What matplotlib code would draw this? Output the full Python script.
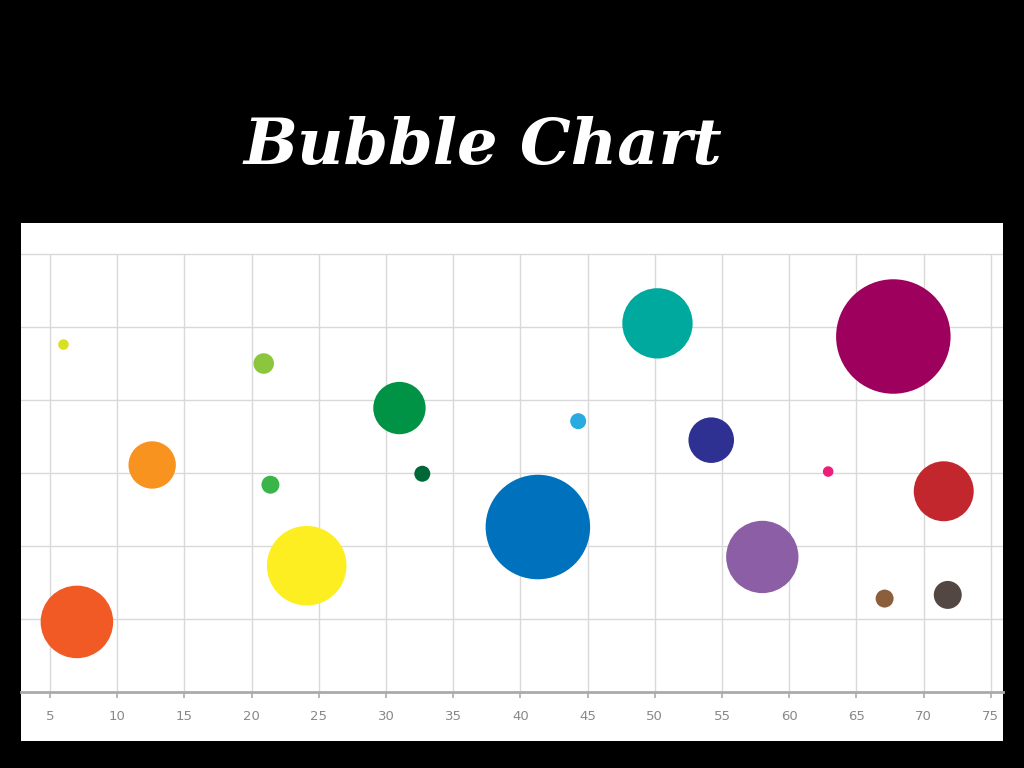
import matplotlib.pyplot as plt
from matplotlib.patches import Rectangle

# bubble data: x position, y value, size (area units)
xs = [6.0, 20.9, 31.0, 12.6, 21.4, 32.7, 7.0, 24.1, 41.3,
      44.3, 50.2, 54.2, 58.0, 67.75, 62.9, 71.5, 67.1, 71.8]
ys = [4.76, 4.50, 3.89, 3.11, 2.84, 2.99, 0.96, 1.73, 2.26,
      3.71, 5.05, 3.45, 1.85, 4.87, 3.02, 2.75, 1.28, 1.33]
sizes = [28, 106, 686, 562, 81, 64, 1318, 1584, 2735,
         64, 1239, 520, 1310, 3283, 28, 900, 81, 196]
colors = ['#d9e021', '#8cc63f', '#009245', '#f7931e', '#39b54a', '#006837',
          '#f15a24', '#fcee21', '#0071bc', '#29abe2', '#00a99d', '#2e3192',
          '#8c5ea6', '#9e005d', '#ed1e79', '#c1272d', '#8b5e3c', '#534741']
xticks = [5, 10, 15, 20, 25, 30, 35, 40, 45, 50, 55, 60, 65, 70, 75]
ygrid = [1, 2, 3, 4, 5, 6]

fig = plt.figure(figsize=(10.24, 7.68), dpi=100)
fig.patch.set_facecolor('black')

# white panel behind the chart
fig.patches.append(Rectangle((21/1024, 27/768), 982/1024, 518/768,
                             transform=fig.transFigure, facecolor='white',
                             edgecolor='none', zorder=-10))

fig.text(0.472, 1 - 164/768, 'Bubble Chart', color='white', fontsize=46,
         fontweight='bold', fontstyle='italic', family='DejaVu Serif',
         ha='center', va='baseline')

ax = fig.add_axes([21/1024, 76/768, 982/1024, 469/768])
ax.set_zorder(1)
ax.set_facecolor('white')
ax.set_xlim(2.84, 75.91)
ax.set_ylim(0, 6.425)

for g in ygrid:
    ax.axhline(g, color='#d9d9d9', lw=1.0, zorder=1)
ax.vlines(xticks, 0, 6, color='#d9d9d9', lw=1.0, zorder=1)

ax.scatter(xs, ys, s=[v * 2.07 for v in sizes], c=colors, linewidths=0, zorder=3)

for side in ['top', 'right', 'left']:
    ax.spines[side].set_visible(False)
ax.spines['bottom'].set_color('#aaaaaa')
ax.spines['bottom'].set_linewidth(2)
ax.set_yticks([])
ax.set_xticks(xticks)
ax.tick_params(axis='x', colors='#aaaaaa', length=4, width=1.2, pad=9,
               labelsize=9.5, labelcolor='#888888')

fig.savefig('out.png', dpi=100, facecolor='black')
